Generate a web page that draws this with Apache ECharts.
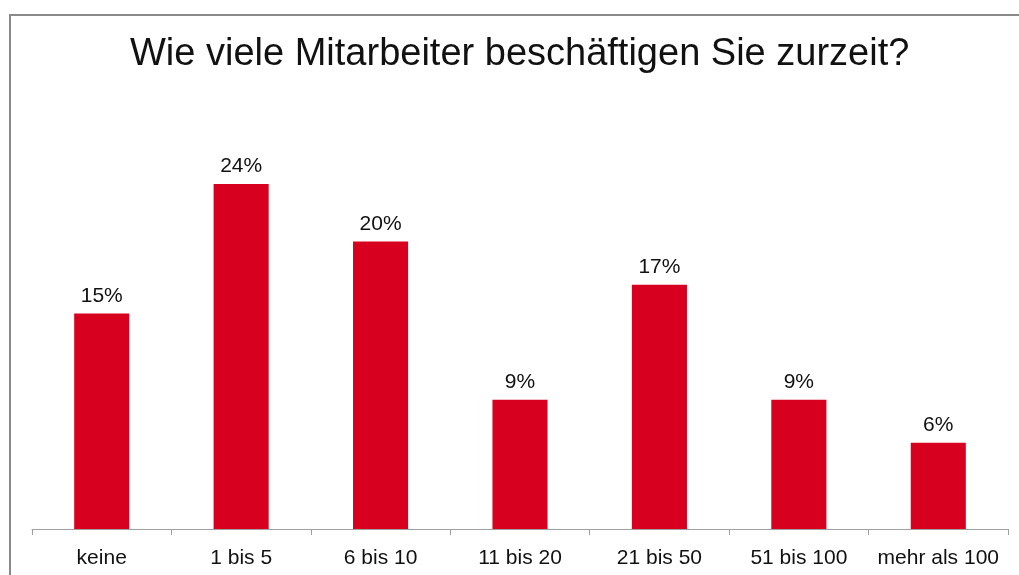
<!DOCTYPE html>
<html>
<head>
<meta charset="utf-8">
<script src="https://cdn.jsdelivr.net/npm/echarts@6/dist/echarts.min.js"></script>
<style>
  html, body { margin: 0; padding: 0; background: #fff; }
  #chart { width: 1019px; height: 575px; }
</style>
</head>
<body>
<div id="chart"></div>
<script>
// Daten
const categories = ['keine', '1 bis 5', '6 bis 10', '11 bis 20', '21 bis 50', '51 bis 100', 'mehr als 100']
const values = [15, 24, 20, 9, 17, 9, 6]
const titleText = 'Wie viele Mitarbeiter beschäftigen Sie zurzeit?'

const chart = echarts.init(document.getElementById('chart'))

const option = {
  animation: false,
  textStyle: { fontFamily: 'Liberation Sans, Arial, sans-serif' },
  title: {
    text: titleText,
    left: 125,
    top: 31,
    textStyle: { fontSize: 38, fontWeight: 'normal', color: '#111' }
  },
  // Rahmen oben und links
  graphic: [
    {
      type: 'polyline',
      shape: { points: [[10, 575], [10, 15], [1019, 15]] },
      style: { stroke: '#8a8a8a', lineWidth: 2, fill: null }
    }
  ],
  grid: {
    left: 32,
    right: 11,
    top: 97.75,
    bottom: 46
  },
  xAxis: {
    type: 'category',
    data: categories,
    axisLine: { lineStyle: { color: '#a0a0a0', width: 1 } },
    axisTick: { show: true, interval: 0, length: 6, lineStyle: { color: '#a0a0a0' } },
    axisLabel: { interval: 0, fontSize: 21, color: '#111', margin: 19 }
  },
  yAxis: {
    type: 'value',
    min: 0,
    max: 30,
    show: false,
    splitLine: { show: false }
  },
  series: [
    {
      type: 'bar',
      data: values,
      barWidth: '39.5%',
      itemStyle: { color: '#d7001e' },
      label: {
        show: true,
        position: 'top',
        distance: 7,
        formatter: '{c}%',
        fontSize: 21,
        color: '#111'
      }
    }
  ]
}

chart.setOption(option)
</script>
</body>
</html>
